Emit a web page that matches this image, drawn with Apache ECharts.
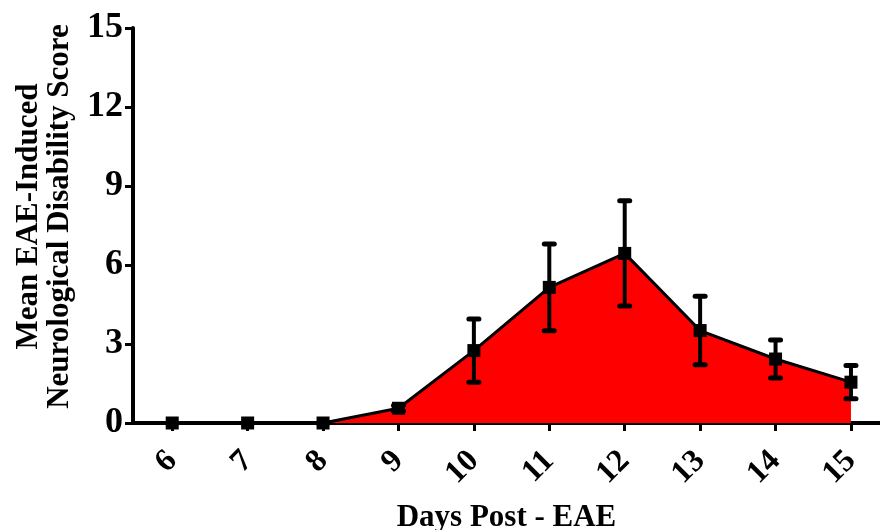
<!DOCTYPE html>
<html lang="en">
<head>
  <meta charset="UTF-8">
  <title>EAE neurological disability score</title>
  <style>
    html, body { margin: 0; padding: 0; background: #fff; }
    #chart { width: 880px; height: 530px; }
  </style>
</head>
<body>
<div id="chart"></div>
<script src="https://cdn.jsdelivr.net/npm/echarts@6/dist/echarts.min.js"></script>
<script>
  // data
  var days = [6, 7, 8, 9, 10, 11, 12, 13, 14, 15];
  var meanScore = [0, 0, 0, 0.56, 2.75, 5.15, 6.44, 3.51, 2.43, 1.55];
  var semScore = [0, 0, 0, 0.1, 1.2, 1.65, 2.0, 1.3, 0.72, 0.63];
  var yTicks = [0, 3, 6, 9, 12, 15];

  var font = 'Liberation Serif';
  var myChart = echarts.init(document.getElementById('chart'));

  var lineData = days.map(function (d, i) { return [d, meanScore[i]]; });
  var errData = days.map(function (d, i) {
    return [d, meanScore[i] - semScore[i], meanScore[i] + semScore[i]];
  });

  var options = {
    animation: false,
    grid: { left: 133, right: 0, top: 28, bottom: 107, outerBoundsMode: 'none', containLabel: false },
    xAxis: {
      type: 'value',
      min: 5.48,
      max: 15.385,
      name: 'Days Post - EAE',
      nameLocation: 'middle',
      nameGap: 79,
      nameTextStyle: { fontFamily: font, fontWeight: 'bold', fontSize: 31, color: '#000' },
      axisLine: { show: true, onZero: false, lineStyle: { color: '#000', width: 4 } },
      axisTick: { show: true, customValues: days, length: 8, lineStyle: { color: '#000', width: 3 } },
      axisLabel: {
        customValues: days,
        rotate: 45,
        margin: 33,
        fontFamily: font, fontWeight: 'bold', fontSize: 32, color: '#000'
      },
      splitLine: { show: false }
    },
    yAxis: {
      type: 'value',
      min: yTicks[0],
      max: yTicks[yTicks.length - 1],
      interval: 3,
      name: 'Mean EAE-Induced\nNeurological Disability Score',
      nameLocation: 'middle',
      nameRotate: 90,
      nameGap: 58,
      nameTextStyle: {
        fontFamily: font, fontWeight: 'bold', fontSize: 31, lineHeight: 31, color: '#000',
        padding: [0, 0, 0, 18]
      },
      axisLine: { show: true, lineStyle: { color: '#000', width: 4 } },
      axisTick: { show: true, length: 8, lineStyle: { color: '#000', width: 3 } },
      axisLabel: { margin: 10, fontFamily: font, fontWeight: 'bold', fontSize: 36, color: '#000' },
      splitLine: { show: false }
    },
    series: [
      {
        type: 'line',
        data: lineData,
        symbol: 'rect',
        symbolSize: 13,
        itemStyle: { color: '#000' },
        lineStyle: { color: '#000', width: 3 },
        areaStyle: { color: '#ff0000', opacity: 1 },
        z: 3
      },
      {
        type: 'custom',
        data: errData,
        z: 4,
        renderItem: function (params, api) {
          var x = api.value(0);
          var lo = api.coord([x, api.value(1)]);
          var hi = api.coord([x, api.value(2)]);
          var half = 5;
          var st = { stroke: '#000', lineWidth: 4, lineCap: 'butt' };
          var cap = { stroke: '#000', lineWidth: 5, lineCap: 'round' };
          return {
            type: 'group',
            children: [
              { type: 'line', shape: { x1: lo[0], y1: lo[1], x2: hi[0], y2: hi[1] }, style: st },
              { type: 'line', shape: { x1: hi[0] - half, y1: hi[1], x2: hi[0] + half, y2: hi[1] }, style: cap },
              { type: 'line', shape: { x1: lo[0] - half, y1: lo[1], x2: lo[0] + half, y2: lo[1] }, style: cap }
            ]
          };
        }
      }
    ]
  };

  myChart.setOption(options);
</script>
</body>
</html>
